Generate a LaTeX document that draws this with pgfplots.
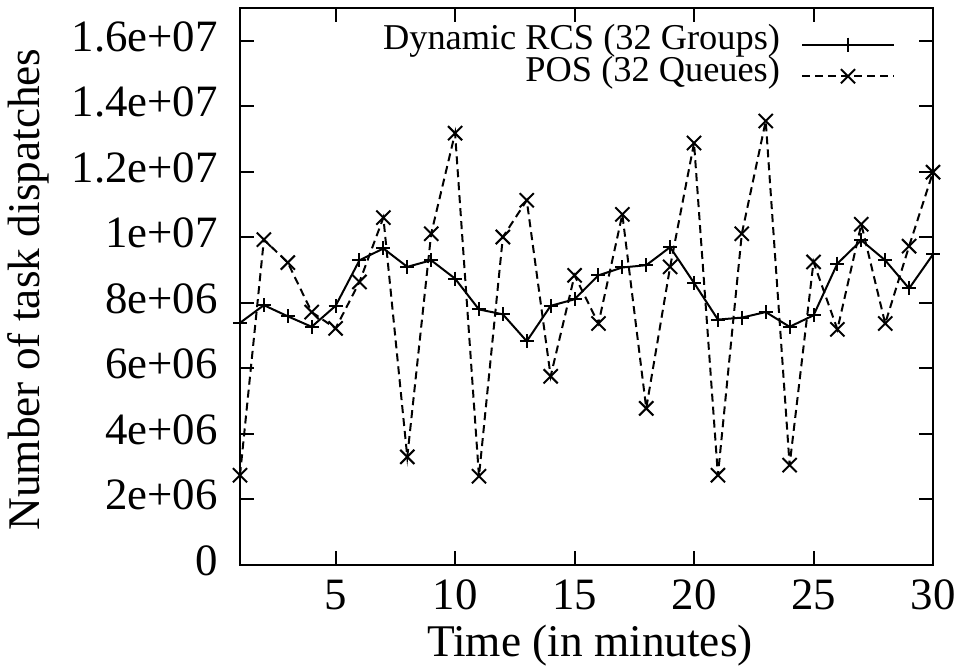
\documentclass[border=0pt]{standalone}
\usepackage{pgfplots}
\pgfplotsset{compat=1.18}
\usepackage{fontspec}
\setmainfont{Liberation Serif}
\begin{document}
\begin{tikzpicture}
\useasboundingbox (-240bp,-101bp) rectangle (725bp,565bp);
\begin{axis}[
 scale only axis, width=693bp, height=557bp,
 xmin=1, xmax=30, ymin=0, ymax=1.7e7,
 clip=false,
 xtick={5,10,15,20,25,30}, xticklabels={5,10,15,20,25,30},
 ytick={0,2e6,4e6,6e6,8e6,1e7,1.2e7,1.4e7,1.6e7},
 yticklabels={0,2e+06,4e+06,6e+06,8e+06,1e+07,1.2e+07,1.4e+07,1.6e+07},
 scaled y ticks=false,
 /pgf/number format/assume math mode=true,
 tick align=inside, major tick length=14bp,
 every tick/.style={black, line width=2bp},
 axis line style={line width=2bp},
 tick label style={font=\fontsize{45}{52}\selectfont, inner sep=0pt},
 xticklabel style={anchor=base, yshift=-44bp},
 yticklabel style={anchor=base east, xshift=-22bp, yshift=-10.5bp},
 label style={font=\fontsize{45.5}{52}\selectfont},
 xlabel={Time (in minutes)},
 ylabel={Number of task dispatches},
 xlabel style={at={(axis description cs:0.505,-0.165)}, anchor=base},
 ylabel style={at={(axis description cs:-0.305,0.4946)}, anchor=center},
 legend style={at={(0.9452,0.9628)}, anchor=north east, draw=none, fill=none, inner sep=0pt, outer sep=0pt,
   font=\fontsize{36.5}{40}\selectfont, nodes={inner sep=0pt, text height=21bp, text depth=10.7bp},
   column sep=21bp, row sep=0pt},
 legend cell align=right,
 legend plot pos=right,
 legend image code/.code={\path (0bp,-11.4bp); \draw[mark repeat=2,mark phase=2] plot coordinates {(0bp,0bp) (46bp,0bp) (92bp,0bp)};},
]
\addplot[black, line width=2bp, mark=+, mark size=7bp, mark options={solid}] coordinates {
(1,7.39e6) (2,7.93e6) (3,7.59e6) (4,7.27e6) (5,7.91e6) (6,9.3e6) (7,9.66e6) (8,9.1e6) (9,9.3e6) (10,8.74e6)
(11,7.8e6) (12,7.65e6) (13,6.83e6) (14,7.91e6) (15,8.11e6) (16,8.84e6) (17,9.08e6) (18,9.15e6) (19,9.7e6) (20,8.61e6)
(21,7.49e6) (22,7.55e6) (23,7.72e6) (24,7.27e6) (25,7.62e6) (26,9.2e6) (27,9.91e6) (28,9.3e6) (29,8.44e6) (30,9.48e6)
};
\addlegendentry{Dynamic RCS (32 Groups)}
\addplot[black, line width=2bp, dash pattern=on 8bp off 5bp, mark=x, mark size=10bp, mark options={solid}] coordinates {
(1,2.74e6) (2,9.93e6) (3,9.23e6) (4,7.72e6) (5,7.22e6) (6,8.64e6) (7,10.6e6) (8,3.3e6) (9,10.11e6) (10,13.18e6)
(11,2.71e6) (12,10.01e6) (13,11.13e6) (14,5.76e6) (15,8.84e6) (16,7.37e6) (17,10.7e6) (18,4.78e6) (19,9.1e6) (20,12.88e6)
(21,2.74e6) (22,10.11e6) (23,13.55e6) (24,3.05e6) (25,9.25e6) (26,7.19e6) (27,10.4e6) (28,7.37e6) (29,9.73e6) (30,11.99e6)
};
\addlegendentry{POS (32 Queues)}
\end{axis}
\end{tikzpicture}
\end{document}
